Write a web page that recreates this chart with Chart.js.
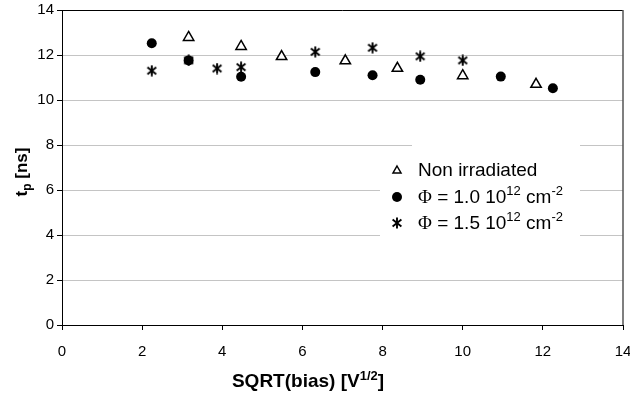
<!DOCTYPE html>
<html>
<head>
<meta charset="utf-8">
<script src="https://cdn.jsdelivr.net/npm/chart.js@4.4.0/dist/chart.umd.min.js"></script>
<style>
html, body { margin: 0; padding: 0; background: #fff; }
#wrap { width: 630px; height: 396px; }
</style>
</head>
<body>
<div id="wrap"><canvas id="chart" width="630" height="396"></canvas></div>
<script>
// data: x = sqrt(bias), y = tp in ns
const nonIrrX = [3.16, 4.47, 5.48, 7.07, 8.37, 10.0, 11.83];
const nonIrrY = [12.78, 12.38, 11.93, 11.74, 11.41, 11.08, 10.7];
const phi10X = [2.24, 3.16, 4.47, 6.32, 7.75, 8.94, 10.95, 12.25];
const phi10Y = [12.52, 11.76, 11.03, 11.24, 11.1, 10.9, 11.04, 10.52];
const phi15X = [2.24, 3.16, 3.87, 4.47, 6.32, 7.75, 8.94, 10.0];
const phi15Y = [11.3, 11.76, 11.4, 11.46, 12.14, 12.32, 11.94, 11.76];
const xTickValues = [0, 2, 4, 6, 8, 10, 12, 14];
const yTickValues = [0, 2, 4, 6, 8, 10, 12, 14];

const FONT = "'Liberation Sans', Arial, sans-serif";
const SERIF = "'Liberation Serif', 'Times New Roman', serif";

function pairs(xs, ys) {
    return xs.map((x, i) => ({ x: x, y: ys[i] }));
}

// excel style asterisk: vertical bar plus an X
function makeStar() {
    const c = document.createElement('canvas');
    c.width = 12; c.height = 12;
    const g = c.getContext('2d');
    g.strokeStyle = '#000';
    g.lineWidth = 1.9;
    g.beginPath();
    g.moveTo(6, 0.5); g.lineTo(6, 11.5);
    g.moveTo(1.6, 2.5); g.lineTo(10.4, 9.5);
    g.moveTo(10.4, 2.5); g.lineTo(1.6, 9.5);
    g.stroke();
    return c;
}
const starImg = makeStar();

// text pieces: [text, shift, family?]; shift != 0 means a small raised/lowered piece
function pieceFont(p, size, bold) {
    const fs = p[1] !== 0 ? Math.round(size * 0.68) : size;
    return (bold ? 'bold ' : '') + fs + 'px ' + (p[2] || FONT);
}
function drawRich(ctx, parts, x, y, size, bold) {
    let cx = x;
    parts.forEach(p => {
        ctx.font = pieceFont(p, size, bold);
        ctx.fillText(p[0], cx, y + p[1]);
        cx += ctx.measureText(p[0]).width;
    });
    return cx - x;
}
function richWidth(ctx, parts, size, bold) {
    let w = 0;
    parts.forEach(p => {
        ctx.font = pieceFont(p, size, bold);
        w += ctx.measureText(p[0]).width;
    });
    return w;
}

const decorPlugin = {
    id: 'decor',
    afterDraw(chart) {
        const ctx = chart.ctx;
        const a = chart.chartArea;
        ctx.save();

        // frame top / right
        ctx.strokeStyle = '#000';
        ctx.lineWidth = 1;
        ctx.beginPath();
        ctx.moveTo(a.left, a.top + 0.5);
        ctx.lineTo(a.right, a.top + 0.5);
        ctx.stroke();
        ctx.strokeStyle = '#555';
        ctx.lineWidth = 1.5;
        ctx.beginPath();
        ctx.moveTo(a.right, a.top);
        ctx.lineTo(a.right, a.bottom);
        ctx.stroke();

        // legend box
        ctx.fillStyle = '#fff';
        ctx.fillRect(412, 140, 168, 20);
        ctx.fillRect(380, 158, 200, 82);

        ctx.fillStyle = '#000';
        ctx.textBaseline = 'alphabetic';
        ctx.textAlign = 'left';
        const lx = 397, tx = 418;
        // triangle
        ctx.strokeStyle = '#000';
        ctx.lineWidth = 1.5;
        ctx.beginPath();
        ctx.moveTo(lx, 166); ctx.lineTo(lx + 4, 173); ctx.lineTo(lx - 4, 173); ctx.closePath();
        ctx.stroke();
        drawRich(ctx, [['Non irradiated', 0]], tx, 176, 19, false);
        // dot
        ctx.beginPath();
        ctx.arc(lx, 197, 5, 0, Math.PI * 2);
        ctx.fill();
        drawRich(ctx, [['\u03A6', 0, SERIF], [' = 1.0 10', 0], ['12', -8], [' cm', 0], ['-2', -8]], tx, 203, 19, false);
        // star
        ctx.drawImage(starImg, lx - 6, 217);
        drawRich(ctx, [['\u03A6', 0, SERIF], [' = 1.5 10', 0], ['12', -8], [' cm', 0], ['-2', -8]], tx, 229, 19, false);

        // axis titles
        const xt = [['SQRT(bias) [V', 0], ['1/2', -7], [']', 0]];
        const w = richWidth(ctx, xt, 19, true);
        drawRich(ctx, xt, 308 - w / 2, 387, 19, true);

        ctx.save();
        ctx.translate(27, 172);
        ctx.rotate(-Math.PI / 2);
        const yt = [['t', 0], ['p', 4], [' [ns]', 0]];
        const wy = richWidth(ctx, yt, 17, true);
        drawRich(ctx, yt, -wy / 2, 0, 17, true);
        ctx.restore();

        ctx.restore();
    }
};

const ctx = document.getElementById('chart').getContext('2d');
new Chart(ctx, {
    type: 'scatter',
    data: {
        datasets: [
            {
                label: 'Non irradiated',
                data: pairs(nonIrrX, nonIrrY),
                pointStyle: 'triangle',
                pointRadius: 6,
                backgroundColor: '#fff',
                borderColor: '#000',
                borderWidth: 1.5
            },
            {
                label: 'Phi = 1.0 10^12 cm^-2',
                data: pairs(phi10X, phi10Y),
                pointStyle: 'circle',
                pointRadius: 5,
                backgroundColor: '#000',
                borderColor: '#000',
                borderWidth: 0
            },
            {
                label: 'Phi = 1.5 10^12 cm^-2',
                data: pairs(phi15X, phi15Y),
                pointStyle: starImg,
                pointRadius: 6
            }
        ]
    },
    options: {
        responsive: false,
        animation: false,
        devicePixelRatio: 1,
        layout: { autoPadding: false, padding: { top: 10, right: 7, left: 0, bottom: 0 } },
        plugins: {
            legend: { display: false },
            tooltip: { enabled: false }
        },
        scales: {
            x: {
                type: 'linear',
                min: 0,
                max: 14,
                afterBuildTicks: s => { s.ticks = xTickValues.map(v => ({ value: v })); },
                afterFit: s => { s.height = 71; s.paddingLeft = 0; s.paddingRight = 0; },
                grid: { drawOnChartArea: false, drawTicks: true, tickLength: 5, tickColor: '#000' },
                border: { color: '#000', width: 1 },
                ticks: { color: '#000', padding: 13, maxRotation: 0, font: { family: FONT, size: 15 } }
            },
            y: {
                type: 'linear',
                min: 0,
                max: 14,
                afterBuildTicks: s => { s.ticks = yTickValues.map(v => ({ value: v })); },
                afterFit: s => { s.width = 62; s.paddingTop = 0; s.paddingBottom = 0; },
                grid: { color: '#c4c4c4', lineWidth: 1, tickLength: 5, tickColor: '#000' },
                border: { color: '#000', width: 1 },
                ticks: { color: '#000', padding: 3, font: { family: FONT, size: 15 } }
            }
        }
    },
    plugins: [decorPlugin]
});
</script>
</body>
</html>
